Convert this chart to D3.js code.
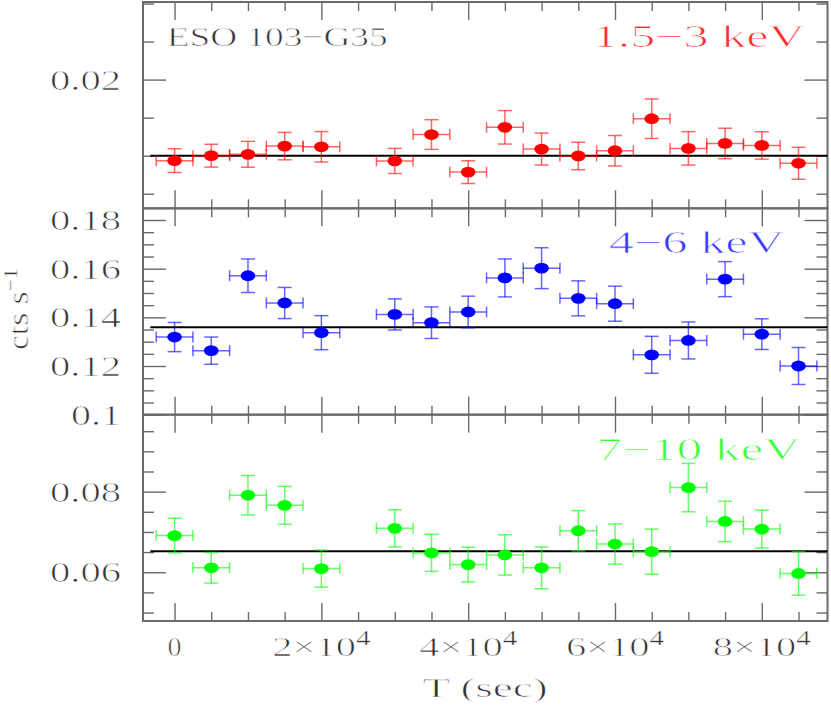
<!DOCTYPE html>
<html>
<head>
<meta charset="utf-8">
<script src="https://cdn.jsdelivr.net/npm/d3@7"></script>
<style>
  body { margin: 0; background: #fff; }
  svg { display: block; }
  text { font-family: "Liberation Serif", "Times New Roman", "DejaVu Serif", serif;
         stroke: #fff; stroke-width: 0.75px; }
  tspan.sup { stroke-width: 0.4px; }
</style>
</head>
<body>
<svg id="chart"></svg>
<script>
// time bins (sec), bin half width
const binTimes = [0, 5000, 10000, 15000, 20000, 30000, 35000, 40000, 45000, 50000,
                  55000, 60000, 65000, 70000, 75000, 80000, 85000];
const binHalf = 2500;

// 1.5-3 keV
const softRate = [0.00935, 0.0100, 0.01018, 0.01126, 0.01117, 0.00931, 0.01278, 0.00784, 0.01373,
                  0.01087, 0.00996, 0.01065, 0.01486, 0.01096, 0.01161, 0.01135, 0.0090];
const softErr  = [0.00156, 0.0015, 0.0017, 0.0018, 0.0020, 0.00165, 0.00195, 0.0015, 0.0022,
                  0.0021, 0.0018, 0.0020, 0.0026, 0.0022, 0.0020, 0.0018, 0.0021];
// 4-6 keV
const midRate = [0.1319, 0.1263, 0.1571, 0.1459, 0.1337, 0.1412, 0.1378, 0.1422, 0.1562,
                 0.1602, 0.1478, 0.1456, 0.1246, 0.1305, 0.1557, 0.1331, 0.1200];
const midErr  = [0.0060, 0.0056, 0.0069, 0.0064, 0.0070, 0.0064, 0.0065, 0.0065, 0.0078,
                 0.0084, 0.0072, 0.0072, 0.0076, 0.0076, 0.0072, 0.0063, 0.0076];
// 7-10 keV
const hardRate = [0.0691, 0.0611, 0.0791, 0.0766, 0.0609, 0.0709, 0.0648, 0.0619, 0.0643,
                  0.0611, 0.0703, 0.0670, 0.0651, 0.0810, 0.0726, 0.0707, 0.0597];
const hardErr  = [0.0043, 0.0038, 0.0049, 0.0047, 0.0046, 0.0046, 0.0046, 0.0043, 0.0050,
                  0.0052, 0.0050, 0.0050, 0.0056, 0.0060, 0.0050, 0.0047, 0.0054];

const bandLabels = ["1.5\u22123 keV", "4\u22126 keV", "7\u221210 keV"];
const bandMeans = [0.0100, 0.1359, 0.0652];
const yDomains = [[0.00308, 0.0302], [0.1000, 0.1848], [0.0479, 0.0991]];
const yLabelTicks = [[0.02], [0.1, 0.12, 0.14, 0.16, 0.18], [0.06, 0.08]];
const meanStart = -3300;

const xDomain = [-4300, 88950];
const xLabelTicks = [0, 20000, 40000, 60000, 80000];
const sourceName = "ESO 103\u2212G35";

// styles
const bandColors = ["#ff0000", "#0000ff", "#00ff00"];
const labelColors = ["#ff2a2a", "#3a3aff", "#3aff3a"];
const axisColor = "#6a6a6a";
const textColor = "#333";

const width = 831, height = 708;
const plotLeft = 143, plotRight = 827.5, plotTop = 2, plotBottom = 621;
const panelH = (plotBottom - plotTop) / 3;

const svg = d3.select("#chart").attr("width", width).attr("height", height);

const x = d3.scaleLinear().domain(xDomain).range([plotLeft, plotRight]);
const xMinor = d3.range(0, xDomain[1], 5000).filter(v => v % 20000 !== 0);

const rates = [softRate, midRate, hardRate];
const errs = [softErr, midErr, hardErr];

function styleAxis(g) {
    g.select(".domain").remove();
    g.selectAll(".tick line").attr("stroke", axisColor).attr("stroke-width", 1.4);
}

rates.forEach((rate, i) => {
    const y0 = plotTop + i * panelH, y1 = y0 + panelH;
    const [lo, hi] = yDomains[i];
    const y = d3.scaleLinear().domain(yDomains[i]).range([y1, y0]);
    const yMinor = d3.range(Math.ceil(lo / 0.005) * 0.005, hi, 0.005)
        .filter(v => Math.abs(v / 0.02 - Math.round(v / 0.02)) > 1e-6);
    const yMajor = d3.range(Math.ceil(lo / 0.02 - 1e-6) * 0.02, hi, 0.02);

    const panel = svg.append("g");

    // left / right ticks
    panel.append("g").attr("transform", `translate(${plotLeft},0)`)
        .call(d3.axisLeft(y).tickValues(yMinor).tickSize(-11).tickFormat(""))
        .call(styleAxis);
    panel.append("g").attr("transform", `translate(${plotRight},0)`)
        .call(d3.axisRight(y).tickValues(yMinor).tickSize(-11).tickFormat(""))
        .call(styleAxis);
    panel.append("g").attr("transform", `translate(${plotRight},0)`)
        .call(d3.axisRight(y).tickValues(yMajor).tickSize(-23).tickFormat(""))
        .call(styleAxis);
    const left = panel.append("g").attr("transform", `translate(${plotLeft},0)`)
        .call(d3.axisLeft(y).tickValues(yMajor).tickSize(-23).tickPadding(22)
            .tickFormat(d => yLabelTicks[i].some(v => Math.abs(v - d) < 1e-6) ? d3.format("~g")(d) : ""))
        .call(styleAxis);
    left.attr("font-family", null);
    left.selectAll(".tick text")
        .attr("font-size", 29)
        .attr("fill", textColor)
        .attr("dy", "0.33em")
        .each(function() {
            const s = d3.select(this).text();
            if (!s) return;
            const nDig = s.replace(/[^0-9]/g, "").length;
            const nDot = s.length - nDig;
            d3.select(this).attr("textLength", nDig * 21 + nDot * 8).attr("lengthAdjust", "spacingAndGlyphs");
        });

    // top / bottom ticks
    panel.append("g").attr("transform", `translate(0,${y0})`)
        .call(d3.axisBottom(x).tickValues(xMinor).tickSize(9).tickFormat(""))
        .call(styleAxis);
    panel.append("g").attr("transform", `translate(0,${y0})`)
        .call(d3.axisBottom(x).tickValues(xLabelTicks).tickSize(18).tickFormat(""))
        .call(styleAxis);
    panel.append("g").attr("transform", `translate(0,${y1})`)
        .call(d3.axisTop(x).tickValues(xMinor).tickSize(9).tickFormat(""))
        .call(styleAxis);
    panel.append("g").attr("transform", `translate(0,${y1})`)
        .call(d3.axisTop(x).tickValues(xLabelTicks).tickSize(18).tickFormat(""))
        .call(styleAxis);

    // frame
    panel.append("rect")
        .attr("x", plotLeft).attr("y", y0)
        .attr("width", plotRight - plotLeft).attr("height", y1 - y0)
        .attr("fill", "none").attr("stroke", axisColor).attr("stroke-width", 2);

    // mean level
    panel.append("line")
        .attr("x1", x(meanStart)).attr("x2", plotRight)
        .attr("y1", y(bandMeans[i])).attr("y2", y(bandMeans[i]))
        .attr("stroke", "#000").attr("stroke-width", 2);

    const pts = binTimes.map((t, k) => ({ t: t, v: rate[k], e: errs[i][k] }));
    const col = bandColors[i];

    const eb = panel.append("g")
        .attr("stroke", col).attr("stroke-opacity", 0.6).attr("stroke-width", 1.5)
        .selectAll("g").data(pts).enter().append("g");
    eb.append("line")
        .attr("x1", d => x(d.t)).attr("x2", d => x(d.t))
        .attr("y1", d => y(d.v - d.e)).attr("y2", d => y(d.v + d.e));
    eb.append("line")
        .attr("x1", d => x(d.t - binHalf)).attr("x2", d => x(d.t + binHalf))
        .attr("y1", d => y(d.v)).attr("y2", d => y(d.v));
    [-1, 1].forEach(s => {
        eb.append("line")
            .attr("x1", d => x(d.t) - 7).attr("x2", d => x(d.t) + 7)
            .attr("y1", d => y(d.v + s * d.e)).attr("y2", d => y(d.v + s * d.e));
        eb.append("line")
            .attr("x1", d => x(d.t + s * binHalf)).attr("x2", d => x(d.t + s * binHalf))
            .attr("y1", d => y(d.v) - 5.5).attr("y2", d => y(d.v) + 5.5);
    });

    panel.append("g").selectAll("ellipse").data(pts).enter().append("ellipse")
        .attr("cx", d => x(d.t)).attr("cy", d => y(d.v))
        .attr("rx", 7.3).attr("ry", 5.4)
        .attr("fill", col);
});

// band labels
const bandLabelPos = [[592.7, 47.3, 212], [608.7, 253.3, 175.5], [596.5, 460, 203.6]];
bandLabels.forEach((lab, i) => {
    svg.append("text")
        .attr("x", bandLabelPos[i][0]).attr("y", bandLabelPos[i][1])
        .attr("textLength", bandLabelPos[i][2]).attr("lengthAdjust", "spacingAndGlyphs")
        .attr("font-size", 31)
        .attr("fill", labelColors[i])
        .text(lab);
});

svg.append("text")
    .attr("x", 166.7).attr("y", 46)
    .attr("textLength", 221).attr("lengthAdjust", "spacingAndGlyphs")
    .attr("font-size", 28)
    .attr("fill", textColor)
    .text(sourceName);

// x tick labels
xLabelTicks.forEach(v => {
    const t = svg.append("text")
        .attr("y", 656)
        .attr("font-size", 28)
        .attr("fill", textColor);
    if (v === 0) {
        t.attr("x", x(v)).attr("text-anchor", "middle").text("0");
    } else {
        const exp = Math.floor(Math.log10(v));
        t.attr("x", x(v) - 49).attr("textLength", 98).attr("lengthAdjust", "spacingAndGlyphs");
        t.append("tspan").text(`${v / Math.pow(10, exp)}\u00d710`);
        t.append("tspan").attr("class", "sup").attr("dy", -11).attr("font-size", 20).text(exp);
    }
});

// axis titles
svg.append("text")
    .attr("x", 422.6).attr("y", 697)
    .attr("textLength", 125).attr("lengthAdjust", "spacingAndGlyphs")
    .attr("font-size", 28)
    .attr("fill", textColor)
    .text("T (sec)");

const yt = svg.append("text")
    .attr("transform", "translate(28,350) rotate(-90)")
    .attr("textLength", 82).attr("lengthAdjust", "spacingAndGlyphs")
    .attr("font-size", 29)
    .attr("fill", textColor);
yt.append("tspan").text("cts s");
yt.append("tspan").attr("class", "sup").attr("dy", -11).attr("font-size", 19).text("\u22121");
</script>
</body>
</html>
